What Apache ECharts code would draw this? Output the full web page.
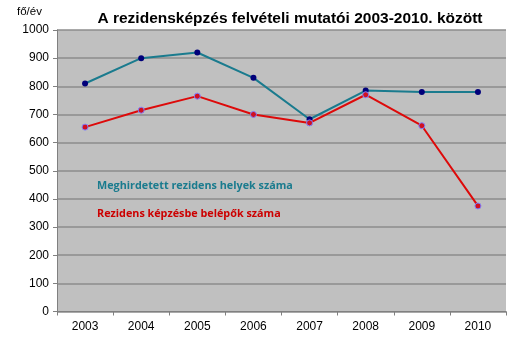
<!DOCTYPE html>
<html><head><meta charset="utf-8">
<script src="https://cdn.jsdelivr.net/npm/echarts@6/dist/echarts.min.js"></script>
<style>html,body{margin:0;padding:0;background:#fff}#c{width:530px;height:341px}</style>
</head><body><div id="c"></div>
<script>
const years = ['2003','2004','2005','2006','2007','2008','2009','2010'];
const meghirdetett = [810, 900, 920, 830, 683, 785, 780, 780];
const belepok = [655, 715, 765, 700, 670, 770, 660, 375];
const yTicks = [0,100,200,300,400,500,600,700,800,900,1000];

const chart = echarts.init(document.getElementById('c'), null, {renderer:'canvas'});
chart.setOption({
  animation:false,
  backgroundColor:'#ffffff',
  title:{text:'A rezidensképzés felvételi mutatói 2003-2010. között', left:285, top:6, textAlign:'center',
    textStyle:{fontFamily:'Liberation Sans', fontWeight:'bold', fontSize:15.5, color:'#000'}},
  grid:{left:57, right:24, top:30, bottom:29.5, show:true, backgroundColor:'#c0c0c0', borderWidth:0},
  xAxis:{type:'category', data:years, boundaryGap:true,
    axisLine:{lineStyle:{color:'#808080', width:1}},
    axisTick:{show:true, length:4, lineStyle:{color:'#808080'}},
    axisLabel:{fontFamily:'Liberation Sans', fontSize:12, color:'#000', margin:9},
    splitLine:{show:false}},
  yAxis:{type:'value', min:yTicks[0], max:yTicks[yTicks.length-1], interval:100,
    axisLine:{show:true, lineStyle:{color:'#808080', width:1}},
    axisTick:{show:true, length:4, lineStyle:{color:'#808080'}},
    axisLabel:{fontFamily:'Liberation Sans', fontSize:12, color:'#000', margin:8, formatter:function(v){return String(v);}},
    splitLine:{show:true, lineStyle:{color:'#8c8c8c', width:1.5}}},
  series:[
    {name:'Meghirdetett rezidens helyek száma', type:'line', data:meghirdetett, symbol:'circle', symbolSize:6,
      lineStyle:{color:'#1a7b8e', width:2}, itemStyle:{color:'#00007a', borderColor:'#00007a', borderWidth:0}, z:3},
    {name:'Rezidens képzésbe belépők száma', type:'line', data:belepok, symbol:'circle', symbolSize:6,
      lineStyle:{color:'#dd0a0a', width:2}, itemStyle:{color:'#d01020', borderColor:'#8080ff', borderWidth:1}, z:4}
  ],
  graphic:[
    {type:'text', left:17, top:6, style:{text:'fő/év', font:'11.5px "Liberation Sans"', fill:'#000'}},
    {type:'text', left:97, top:180, style:{text:'Meghirdetett rezidens helyek száma', font:'bold 10.8px "Open Sans"', fill:'#1a7b8e'}},
    {type:'text', left:97, top:208, style:{text:'Rezidens képzésbe belépők száma', font:'bold 10.8px "Open Sans"', fill:'#cc0000'}}
  ]
});
</script></body></html>
